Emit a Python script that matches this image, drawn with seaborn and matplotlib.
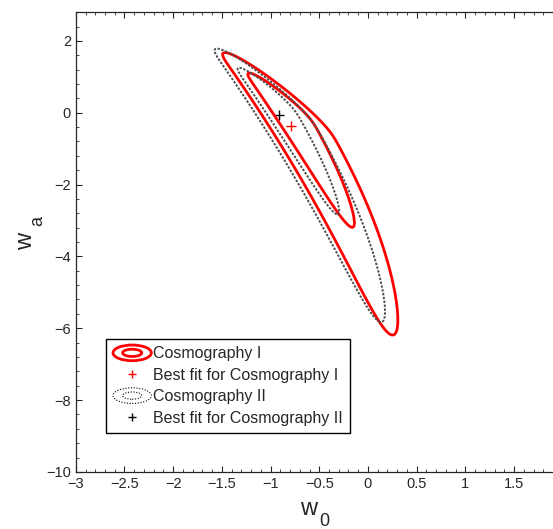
import numpy as np
import matplotlib
matplotlib.use("Agg")
import matplotlib.pyplot as plt
import seaborn as sns
from matplotlib.lines import Line2D
from matplotlib.patches import Ellipse
from matplotlib.legend_handler import HandlerBase

# contour levels (delta chi2 for 1 and 2 sigma)
levels = [2.30, 6.17]

# banana model of each likelihood: centre line w0 = a + b*wa + c*wa^2,
# spread along wa (t0, sig_t), half width h, soft prior wa + 1.9*w0 < cut
cosmo1 = dict(a=-0.800, b=-0.232, c=-0.0100, t0=1.51, sig_t=3.10, h=0.125, cut=-1.36)
cosmo2 = dict(a=-0.890, b=-0.230, c=-0.0093, t0=1.87, sig_t=3.10, h=0.113, cut=-1.42)
wall_slope = 1.9
wall_k = 35.0
wall_soft = 0.06

# best fit points
best1 = [-0.79, -0.36]
best2 = [-0.91, -0.06]

labels = ["Cosmography I", "Best fit for Cosmography I",
          "Cosmography II", "Best fit for Cosmography II"]

x_ticks = [-3, -2.5, -2, -1.5, -1, -0.5, 0, 0.5, 1, 1.5]
y_ticks = [-10, -8, -6, -4, -2, 0, 2]


def chi2(W0, WA, p):
    centre = p["a"] + p["b"] * WA + p["c"] * WA ** 2
    q = (WA - p["t0"]) / p["sig_t"]
    d = (W0 - centre) / p["h"]
    over = WA + wall_slope * W0 - p["cut"]
    over = wall_soft * np.logaddexp(0, over / wall_soft)
    return q ** 2 + d ** 2 + wall_k * over ** 2


sns.set_style("ticks")
plt.rcParams["font.family"] = ["Liberation Sans", "DejaVu Sans"]

fig = plt.figure(figsize=(5.53, 5.29), dpi=100)
ax = fig.add_axes([0.137, 0.108, 0.863, 0.869])

w0 = np.linspace(-3, 1.9, 1000)
wa = np.linspace(-10, 2.8, 1000)
W0, WA = np.meshgrid(w0, wa)

ax.contour(W0, WA, chi2(W0, WA, cosmo1), levels=levels, colors="red", linewidths=2.0)
sns.scatterplot(x=[best1[0]], y=[best1[1]], marker="+", color="red", s=45,
                linewidth=1.0, ax=ax, legend=False)
ax.contour(W0, WA, chi2(W0, WA, cosmo2), levels=levels, colors="0.3",
           linewidths=1.4, linestyles=[(0, (1.2, 0.8))])
sns.scatterplot(x=[best2[0]], y=[best2[1]], marker="+", color="k", s=45,
                linewidth=1.0, ax=ax, legend=False)

ax.set_xlim(-3, 1.9)
ax.set_ylim(-10, 2.8)
ax.set_xticks(x_ticks)
ax.set_yticks(y_ticks)
ax.set_xticks(np.arange(-3, 1.91, 0.1), minor=True)
ax.set_yticks(np.arange(-10, 2.81, 0.4), minor=True)
ax.tick_params(which="both", direction="in", top=True, right=False, labelsize=10.5)
ax.tick_params(which="major", length=4, width=0.8)
ax.tick_params(which="minor", length=2.5, width=0.6)
ax.set_xticklabels([f"{t:g}".replace("-", "\u2212") for t in x_ticks])
ax.set_yticklabels([f"{t:g}".replace("-", "\u2212") for t in y_ticks])
ax.spines["right"].set_visible(False)
for s in ["left", "bottom", "top"]:
    ax.spines[s].set_linewidth(0.9)

# axis labels written as letter + large subscript
W, H = 553.0, 529.0
fig.text(309 / W, 1 - 509 / H, "w", fontsize=17, ha="center", va="center")
fig.text(324.5 / W, 1 - 521 / H, "0", fontsize=13, ha="center", va="center")
fig.text(26 / W, 1 - 241 / H, "w", fontsize=17, rotation=90, ha="center", va="center")
fig.text(38 / W, 1 - 221 / H, "a", fontsize=13, rotation=90, ha="center", va="center")


class HandlerRings(HandlerBase):
    def __init__(self, color, ls, lw):
        super().__init__()
        self.color, self.ls, self.lw = color, ls, lw

    def create_artists(self, legend, orig_handle, xdescent, ydescent,
                       width, height, fontsize, trans):
        cx = width / 2 - xdescent
        cy = height / 2 - ydescent
        out = []
        for fw, fh in [(1.0, 1.4), (0.5, 0.65)]:
            e = Ellipse((cx, cy), width * fw, height * fh, fill=False,
                        edgecolor=self.color, linestyle=self.ls, linewidth=self.lw)
            e.set_transform(trans)
            out.append(e)
        return out


h_c1 = Line2D([], [])
h_c2 = Line2D([], [])
h_b1 = Line2D([], [], marker="+", color="red", linestyle="none", markersize=6, markeredgewidth=1)
h_b2 = Line2D([], [], marker="+", color="k", linestyle="none", markersize=6, markeredgewidth=1)

leg = ax.legend([h_c1, h_b1, h_c2, h_b2], labels,
                handler_map={h_c1: HandlerRings("red", "-", 2.0),
                             h_c2: HandlerRings("k", (0, (1, 1.5)), 0.8)},
                loc="lower left", bbox_to_anchor=(0.063, 0.085), fontsize=11.5,
                frameon=True, fancybox=False, edgecolor="k", framealpha=1,
                handlelength=2.4, handletextpad=0.1, labelspacing=0.4,
                borderpad=0.45, borderaxespad=0)
leg.get_frame().set_linewidth(1.0)

fig.savefig("out.png", dpi=100)
plt.close("all")
